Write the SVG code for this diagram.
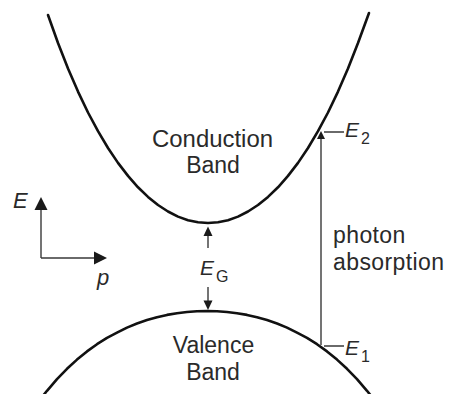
<svg xmlns="http://www.w3.org/2000/svg" width="449" height="394" viewBox="0 0 449 394">
<style>
.band{fill:none;stroke:#111;stroke-width:2.6;stroke-linejoin:round;stroke-linecap:round}
.ln{fill:none;stroke:#3a3a3a;stroke-width:1.4}
.hd{fill:#1a1a1a;stroke:none}
.lbl{font-family:"Liberation Sans",Arial,sans-serif;font-size:23px;fill:#2a2a2a;text-anchor:middle}
.lbl2{font-family:"Liberation Sans",Arial,sans-serif;font-size:23px;letter-spacing:0.4px;fill:#2a2a2a}
.sym{font-family:"Liberation Sans",Arial,sans-serif;font-size:21px;font-style:italic;fill:#2a2a2a}
.ax{font-family:"Liberation Sans",Arial,sans-serif;font-size:22px;font-style:italic;fill:#2a2a2a}
.sub{font-family:"Liberation Sans",Arial,sans-serif;font-size:16px;fill:#2a2a2a}
</style>
<rect width="449" height="394" fill="#fff"/>
<g id="conduction-band">
<path class="band" d="M48,15 L58,43 L68,68.5 L78,91.6 L88,112.5 L98,131.2 L108,148 L118,162.9 L128,175.9 L138,187.3 L148,196.9 L158,205 L168,211.5 L178,216.6 L188,220.2 L198,222.3 L208,223 L218,222.3 L228,220.2 L238,216.6 L248,211.5 L258,205 L268,196.9 L278,187.3 L288,175.9 L298,162.9 L308,148 L318,131.2 L328,112.5 L338,91.6 L348,68.5 L358,43 L369,13"/>
<text class="lbl" x="212.5" y="147" textLength="121" lengthAdjust="spacingAndGlyphs">Conduction</text>
<text class="lbl" x="213" y="173">Band</text>
</g>
<g id="valence-band">
<path class="band" d="M42,397 L47,390.8 L57,379.2 L67,368.8 L77,359.6 L87,351.4 L97,344.2 L107,337.9 L117,332.7 L127,327.6 L137,323.5 L147,320 L157,317.2 L167,314.9 L177,313.2 L187,312 L197,311.2 L207,311 L217,311.2 L227,312 L237,313.2 L247,314.9 L257,317.2 L267,320 L277,323.5 L287,327.6 L297,332.7 L307,337.9 L317,344.2 L327,351.4 L337,359.6 L347,368.8 L357,379.2 L367,390.8 L372,397"/>
<text class="lbl" x="213.5" y="353">Valence</text>
<text class="lbl" x="213" y="380">Band</text>
</g>
<g id="axes">
<path class="ln" d="M41,258 V208 M41,258 H96"/>
<polygon class="hd" points="41,197 34.5,210 47.5,210"/>
<polygon class="hd" points="107,258 94,251.5 94,264.5"/>
<text class="ax" x="13" y="208">E</text>
<text class="ax" x="97" y="285">p</text>
</g>
<g id="band-gap">
<path class="ln" d="M208,235 V248 M208,287 V301"/>
<polygon class="hd" points="208,226.5 203.5,236 212.5,236"/>
<polygon class="hd" points="208,310 203.5,300.5 212.5,300.5"/>
<text class="sym" x="200" y="275">E</text>
<text class="sub" x="216" y="282">G</text>
</g>
<g id="photon-absorption">
<path class="ln" d="M321,345 V139 M324,132 H344 M324,346 H344"/>
<polygon class="hd" points="321,131 317,139 325,139"/>
<text class="sym" x="345" y="137">E</text>
<text class="sub" x="361" y="144">2</text>
<text class="sym" x="345" y="355">E</text>
<text class="sub" x="361" y="362">1</text>
<text class="lbl2" x="333" y="243">photon</text>
<text class="lbl2" x="333" y="270">absorption</text>
</g>
</svg>
